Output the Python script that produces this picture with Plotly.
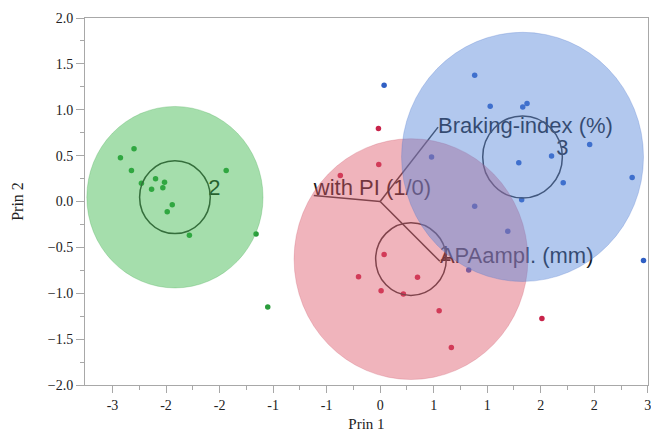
import plotly.graph_objects as go

# ---------------- data ----------------
cluster_names = ["1", "2", "3"]
cluster_cx = [0.288, -1.917, 1.33]
cluster_cy = [-0.628, 0.047, 0.486]
cluster_radius = [1.092, 0.823, 1.13]       # big circle radius (Prin 1 units)
cluster_core_radius = [0.33, 0.33, 0.372]   # small circle radius (Prin 1 units)

c1_x = [-0.016, -0.013, -0.372, 0.037, -0.202, 0.349, 0.009, 0.217, 0.551, 0.665, 1.511]
c1_y = [0.795, 0.404, 0.284, -0.579, -0.819, -0.826, -0.972, -1.008, -1.190, -1.591, -1.274]

c2_x = [-2.426, -2.299, -2.323, -2.230, -2.098, -2.014, -2.030, -2.135, -1.942, -1.989, -1.782, -1.438, -1.159, -1.050]
c2_y = [0.477, 0.575, 0.338, 0.200, 0.248, 0.211, 0.150, 0.134, -0.036, -0.112, -0.368, 0.338, -0.353, -1.150]

c3_x = [0.883, 1.028, 1.332, 1.372, 1.957, 1.601, 1.295, 1.710, 2.354, 1.322, 0.480, 0.883, 1.192, 0.827, 2.460, 0.037]
c3_y = [1.376, 1.037, 1.029, 1.067, 0.622, 0.495, 0.422, 0.204, 0.262, 0.019, 0.484, -0.051, -0.324, -0.746, -0.644, 1.266]

ray_names = ["with PI (1/0)", "Braking-index (%)", "APAampl. (mm)"]
ray_x = [-0.620, 0.541, 0.558]
ray_y = [0.066, 0.811, -0.652]

x_tick_vals = [-2.5, -2.0, -1.5, -1.0, -0.5, 0.0, 0.5, 1.0, 1.5, 2.0, 2.5]
x_tick_text = ["-3", "-2", "-2", "-1", "-1", "0", "1", "1", "2", "2", "3"]
x_range = [-2.757, 2.502]
y_range = [-2.0, 2.0]

# ---------------- styling ----------------
W, H = 651, 432
ML, MR, MT, MB = 85, 3, 18, 47
fill_cols = ["rgba(222,88,106,0.45)", "rgba(55,182,71,0.45)", "rgba(84,133,217,0.45)"]
edge_cols = ["rgba(200,80,100,0.25)", "rgba(50,160,65,0.25)", "rgba(70,110,200,0.25)"]
point_cols = ["#c8234a", "#2a9c3c", "#2f5fc4"]
axis_col = "#a8a8a8"
label_font = dict(family="Liberation Sans, Arial, sans-serif", size=22, color="#1a1a1a")

px_per_x = (W - ML - MR) / (x_range[1] - x_range[0])
px_per_y = (H - MT - MB) / (y_range[1] - y_range[0])
y_stretch = 1.03
def ry(r):
    return r * px_per_x / px_per_y * y_stretch

fig = go.Figure()

# points
for xs, ys, col in [(c1_x, c1_y, point_cols[0]), (c2_x, c2_y, point_cols[1]), (c3_x, c3_y, point_cols[2])]:
    fig.add_trace(go.Scatter(x=xs, y=ys, mode="markers",
                             marker=dict(size=5.5, color=col), showlegend=False, hoverinfo="skip"))

# biplot rays
rx, rys = [], []
for xe, ye in zip(ray_x, ray_y):
    rx += [0, xe, None]
    rys += [0, ye, None]
fig.add_trace(go.Scatter(x=rx, y=rys, mode="lines", line=dict(color="#333333", width=1.5),
                         showlegend=False, hoverinfo="skip"))

# ray labels (small pixel nudges so the labels sit like the reference)
ray_pos = ["top right", "middle right", "middle right"]
ray_dy_px = [5, 0, -4]
for name, xe, ye, pos, dy in zip(ray_names, ray_x, ray_y, ray_pos, ray_dy_px):
    fig.add_trace(go.Scatter(x=[xe], y=[ye - dy / px_per_y], mode="text", text=[name], textposition=pos,
                             textfont=label_font, showlegend=False, hoverinfo="skip"))

# cluster labels
label_dx_px = [-1, 4, 0]
label_dy_px = [4, 8, 7]
for name, cx, cy, rc, dx, dy in zip(cluster_names, cluster_cx, cluster_cy, cluster_core_radius, label_dx_px, label_dy_px):
    fig.add_trace(go.Scatter(x=[cx + rc + dx / px_per_x], y=[cy + dy / px_per_y], mode="text", text=[name],
                             textposition="middle center", textfont=label_font,
                             showlegend=False, hoverinfo="skip"))

shapes = []
# small core circles (drawn under the big translucent discs)
for cx, cy, rc in zip(cluster_cx, cluster_cy, cluster_core_radius):
    shapes.append(dict(type="circle", xref="x", yref="y", layer="above",
                       x0=cx - rc, x1=cx + rc, y0=cy - ry(rc), y1=cy + ry(rc),
                       line=dict(color="#333333", width=1.5), fillcolor="rgba(0,0,0,0)"))
# big discs
for cx, cy, r, fc, ec in zip(cluster_cx, cluster_cy, cluster_radius, fill_cols, edge_cols):
    shapes.append(dict(type="circle", xref="x", yref="y", layer="above",
                       x0=cx - r, x1=cx + r, y0=cy - ry(r), y1=cy + ry(r),
                       line=dict(color=ec, width=1), fillcolor=fc))

serif = "Liberation Serif, Times New Roman, serif"
tick_font = dict(family=serif, size=14, color="#222222")
x_minor = [(a + b) / 2 for a, b in zip(x_tick_vals[:-1], x_tick_vals[1:])]

fig.update_layout(
    width=W, height=H,
    margin=dict(l=ML, r=MR, t=MT, b=MB, pad=0, autoexpand=False),
    paper_bgcolor="white", plot_bgcolor="white",
    shapes=shapes,
    xaxis=dict(range=x_range, tickmode="array", tickvals=x_tick_vals, ticktext=x_tick_text,
               ticks="outside", ticklen=7, tickcolor=axis_col, tickwidth=1,
               ticklabeloverflow="allow", automargin=False,
               showline=True, linecolor=axis_col, linewidth=1, mirror=True,
               showgrid=False, zeroline=False, tickfont=tick_font,
               minor=dict(tickmode="array", tickvals=x_minor, ticks="outside", ticklen=4,
                          tickcolor=axis_col, showgrid=False),
               title=dict(text="Prin 1", font=dict(family=serif, size=15, color="#222222"),
                          standoff=6)),
    yaxis=dict(range=y_range, tickmode="linear", tick0=-2, dtick=0.5, tickformat=".1f",
               ticks="outside", ticklen=8, tickcolor=axis_col, tickwidth=1,
               automargin=False,
               showline=True, linecolor=axis_col, linewidth=1, mirror=True,
               showgrid=False, zeroline=False, tickfont=tick_font,
               minor=dict(dtick=0.25, ticks="outside", ticklen=4, tickcolor=axis_col, showgrid=False),
               title=dict(text="Prin 2", font=dict(family=serif, size=16, color="#222222"),
                          standoff=20)),
)

fig.write_html("out.html")
